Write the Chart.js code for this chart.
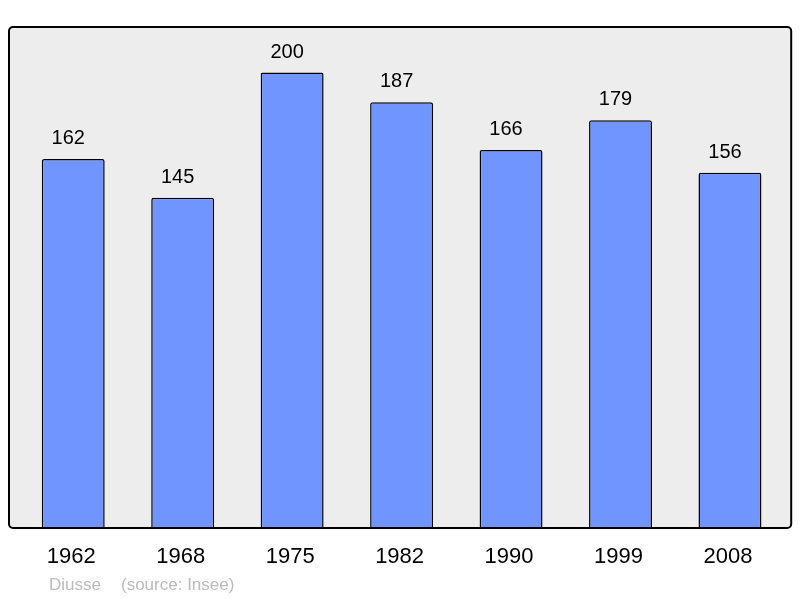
<!DOCTYPE html>
<html>
<head>
<meta charset="utf-8">
<script src="https://cdn.jsdelivr.net/npm/chart.js@4/dist/chart.umd.min.js"></script>
<style>
  body { margin: 0; background: #fff; }
  #wrap { width: 800px; height: 598px; }
</style>
</head>
<body>
<div id="wrap"><canvas id="popChart" width="800" height="598"></canvas></div>
<script>
const years = ['1962', '1968', '1975', '1982', '1990', '1999', '2008'];
const population = [162, 145, 200, 187, 166, 179, 156];
const yMax = 220;
const author = 'Diusse';
const source = '(source: Insee)';

// grey frame behind the bars, border drawn on top
const framePlugin = {
    id: 'frame',
    beforeDatasetsDraw: function(chart) {
        const a = chart.chartArea;
        const ctx = chart.ctx;
        ctx.save();
        ctx.beginPath();
        ctx.roundRect(a.left - 9.5, a.top, a.right - a.left + 16, a.bottom - a.top, 4);
        ctx.fillStyle = '#ededed';
        ctx.fill();
        ctx.restore();
    },
    afterDatasetsDraw: function(chart) {
        const a = chart.chartArea;
        const ctx = chart.ctx;
        ctx.save();
        ctx.beginPath();
        ctx.roundRect(a.left - 9.5, a.top, a.right - a.left + 16, a.bottom - a.top, 4);
        ctx.lineWidth = 2;
        ctx.strokeStyle = '#000';
        ctx.stroke();

        // values above bars
        const meta = chart.getDatasetMeta(0);
        ctx.font = '20px "Liberation Sans", Arial, sans-serif';
        ctx.fillStyle = '#000';
        ctx.textAlign = 'center';
        ctx.textBaseline = 'alphabetic';
        meta.data.forEach(function(bar, i) {
            ctx.fillText(population[i], bar.x - 5, bar.y - 15);
        });

        // footer
        ctx.font = '17px "Liberation Sans", Arial, sans-serif';
        ctx.fillStyle = '#bbbbbb';
        ctx.textAlign = 'left';
        ctx.fillText(author, 49, 590);
        ctx.fillText(source, 121, 590);
        ctx.restore();
    }
};

new Chart(document.getElementById('popChart').getContext('2d'), {
    type: 'bar',
    data: {
        labels: years,
        datasets: [{
            data: population,
            backgroundColor: '#7095ff',
            borderColor: '#000',
            borderWidth: 1.5,
            borderRadius: { topLeft: 2, topRight: 2 },
            borderSkipped: 'bottom',
            barPercentage: 0.575,
            categoryPercentage: 1
        }]
    },
    options: {
        responsive: false,
        animation: false,
        layout: {
            padding: { left: 18.5, right: 15.3, top: 27, bottom: 0 }
        },
        plugins: {
            legend: { display: false },
            tooltip: { enabled: false }
        },
        scales: {
            y: {
                display: false,
                min: 0,
                max: yMax
            },
            x: {
                grid: { display: false, drawTicks: false },
                border: { display: false },
                ticks: {
                    color: '#000',
                    padding: 16,
                    labelOffset: -2,
                    font: { size: 22, family: '"Liberation Sans", Arial, sans-serif' }
                },
                afterFit: function(scale) {
                    scale.height = 70;
                }
            }
        }
    },
    plugins: [framePlugin]
});
</script>
</body>
</html>
